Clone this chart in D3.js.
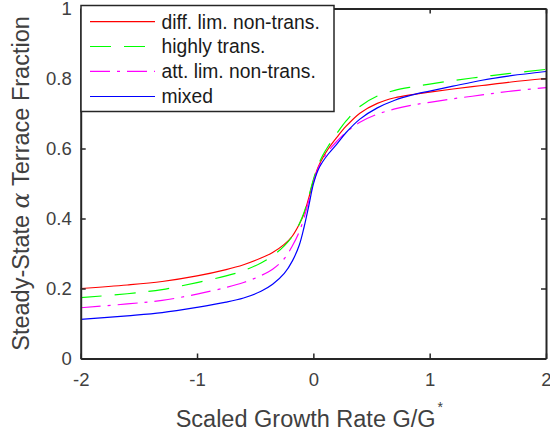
<!DOCTYPE html>
<html>
<head>
<meta charset="utf-8">
<script src="https://cdn.jsdelivr.net/npm/d3@7"></script>
<style>
  html, body { margin: 0; padding: 0; background: #fff; }
  svg { display: block; }
  text { font-family: "Liberation Sans", Arial, Helvetica, sans-serif; }
</style>
</head>
<body>
<svg id="chart" width="550" height="438"></svg>
<script>
// Scaled growth rate samples (G/G*)
const growthRate = [-2, -1.6, -1.3, -1, -0.75, -0.6, -0.45, -0.35, -0.25, -0.18, -0.12, -0.08, -0.04, 0, 0.04, 0.08, 0.13, 0.2, 0.28, 0.4, 0.55, 0.7, 0.85, 1.0, 1.2, 1.45, 1.7, 2];

// Steady-state alpha terrace fraction for each model
const diffLimNonTrans = [0.200, 0.210, 0.220, 0.236, 0.254, 0.268, 0.287, 0.303, 0.326, 0.350, 0.384, 0.414, 0.458, 0.507, 0.546, 0.573, 0.600, 0.631, 0.663, 0.701, 0.729, 0.745, 0.754, 0.761, 0.770, 0.780, 0.790, 0.800];
const highlyTrans     = [0.174, 0.185, 0.197, 0.217, 0.236, 0.251, 0.273, 0.293, 0.322, 0.349, 0.385, 0.417, 0.462, 0.511, 0.551, 0.580, 0.608, 0.642, 0.678, 0.720, 0.750, 0.766, 0.776, 0.784, 0.794, 0.805, 0.815, 0.826];
const attLimNonTrans  = [0.145, 0.156, 0.166, 0.184, 0.203, 0.217, 0.237, 0.255, 0.285, 0.322, 0.363, 0.402, 0.450, 0.502, 0.542, 0.568, 0.593, 0.620, 0.646, 0.675, 0.698, 0.713, 0.724, 0.732, 0.742, 0.753, 0.764, 0.774];
const mixed           = [0.112, 0.122, 0.131, 0.146, 0.161, 0.173, 0.192, 0.212, 0.243, 0.279, 0.325, 0.375, 0.435, 0.498, 0.538, 0.562, 0.585, 0.612, 0.645, 0.684, 0.716, 0.738, 0.753, 0.764, 0.778, 0.795, 0.808, 0.820];

const seriesNames = ["diff. lim. non-trans.", "highly trans.", "att. lim. non-trans.", "mixed"];
const seriesColors = ["#ff0000", "#00ff00", "#ff00ff", "#0000ff"];
const seriesDashes = [null, "21,13", "20,7,3,7", null];
const seriesValues = [diffLimNonTrans, highlyTrans, attLimNonTrans, mixed];

const xTicks = [-2, -1, 0, 1, 2];
const yTicks = [0, 0.2, 0.4, 0.6, 0.8, 1];

const axisColor = "#262626";
const labelColor = "#404040";

const plot = { left: 80.7, right: 546, top: 8.5, bottom: 358.5 };

const svg = d3.select("#chart");

const x = d3.scaleLinear().domain([-2, 2]).range([plot.left, plot.right]);
const y = d3.scaleLinear().domain([0, 1]).range([plot.bottom, plot.top]);

const fmt = v => String(v).replace("\u2212", "-");

// clip for the data lines
svg.append("defs").append("clipPath").attr("id", "plotClip")
  .append("rect")
  .attr("x", plot.left).attr("y", plot.top)
  .attr("width", plot.right - plot.left).attr("height", plot.bottom - plot.top);

// data lines
const line = d3.line()
  .x(d => x(d[0]))
  .y(d => y(d[1]))
  .curve(d3.curveCatmullRom.alpha(0.5));

const linesG = svg.append("g").attr("clip-path", "url(#plotClip)");
seriesValues.forEach((vals, i) => {
  const pts = growthRate.map((g, k) => [g, vals[k]]);
  linesG.append("path")
    .datum(pts)
    .attr("d", line)
    .attr("fill", "none")
    .attr("stroke", seriesColors[i])
    .attr("stroke-width", 1.2)
    .attr("stroke-dasharray", seriesDashes[i]);
});

// axes (box with inward ticks on all four sides)
function styleAxis(g) {
  g.select(".domain").attr("stroke", axisColor).attr("stroke-width", 2);
  g.selectAll(".tick line").attr("stroke", axisColor).attr("stroke-width", 1.5);
  g.selectAll(".tick text")
    .attr("fill", labelColor)
    .style("font-size", "18.5px")
    .style("font-family", "'Liberation Sans', Arial, sans-serif");
}

svg.append("g")
  .attr("transform", `translate(0,${plot.bottom})`)
  .call(d3.axisBottom(x).tickValues(xTicks).tickFormat(fmt).tickSizeInner(-5).tickSizeOuter(0).tickPadding(14))
  .call(styleAxis)
  .call(g => g.selectAll(".tick text").attr("dy", "0.71em"));

svg.append("g")
  .attr("transform", `translate(0,${plot.top})`)
  .call(d3.axisTop(x).tickValues(xTicks).tickFormat("").tickSizeInner(-5).tickSizeOuter(0))
  .call(styleAxis);

svg.append("g")
  .attr("transform", `translate(${plot.left},0)`)
  .call(d3.axisLeft(y).tickValues(yTicks).tickFormat(fmt).tickSizeInner(-5).tickSizeOuter(0).tickPadding(9))
  .call(styleAxis);

svg.append("g")
  .attr("transform", `translate(${plot.right},0)`)
  .call(d3.axisRight(y).tickValues(yTicks).tickFormat("").tickSizeInner(-5).tickSizeOuter(0))
  .call(styleAxis);

// axis titles
const xTitle = svg.append("text")
  .attr("x", (plot.left + plot.right) / 2 - 4)
  .attr("y", 427)
  .attr("text-anchor", "middle")
  .attr("fill", labelColor)
  .style("font-size", "23.5px");
xTitle.append("tspan").text("Scaled Growth Rate G/G");
xTitle.append("tspan").attr("dy", -15).attr("dx", 2).style("font-size", "14px").text("*");

const yTitle = svg.append("text")
  .attr("transform", `translate(29,${(plot.top + plot.bottom) / 2}) rotate(-90)`)
  .attr("text-anchor", "middle")
  .attr("fill", labelColor)
  .style("font-size", "23.5px");
yTitle.append("tspan").text("Steady-State ");
yTitle.append("tspan")
  .style("font-family", "'DejaVu Serif', 'Liberation Serif', serif")
  .style("font-style", "italic")
  .text("\u03b1");
yTitle.append("tspan").text(" Terrace Fraction");

// legend
const legend = svg.append("g");
legend.append("rect")
  .attr("x", 81).attr("y", 5.5)
  .attr("width", 253).attr("height", 106)
  .attr("fill", "#fff")
  .attr("stroke", axisColor)
  .attr("stroke-width", 1.5);

const rowY = [21.7, 46.5, 71.3, 96.5];
seriesNames.forEach((name, i) => {
  legend.append("line")
    .attr("x1", 90).attr("x2", 155)
    .attr("y1", rowY[i]).attr("y2", rowY[i])
    .attr("stroke", seriesColors[i])
    .attr("stroke-width", 1.2)
    .attr("stroke-dasharray", seriesDashes[i]);
  legend.append("text")
    .attr("x", 161.5).attr("y", rowY[i] + 6.8)
    .attr("fill", "#1a1a1a")
    .style("font-size", "19.3px")
    .text(name);
});
</script>
</body>
</html>
